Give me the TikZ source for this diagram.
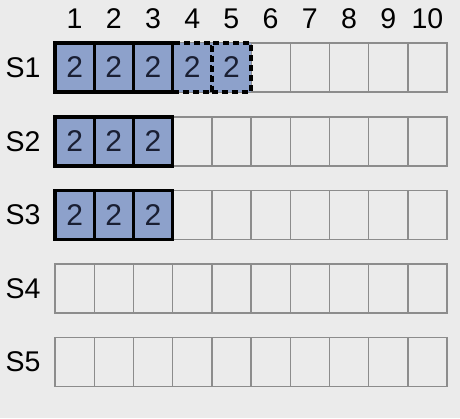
\documentclass[tikz,border=0pt]{standalone}
\usepackage{fontspec}
\setmainfont{Liberation Sans}
\definecolor{bg}{HTML}{EBEBEB}
\definecolor{cellfill}{HTML}{8DA1CB}
\definecolor{gridgray}{HTML}{8C8C8C}
\definecolor{digit}{HTML}{1A1F33}
\begin{document}
\begin{tikzpicture}[x=1pt,y=-1pt,
  emptycell/.style={draw=gridgray,line width=1.4pt,fill=none,minimum width=39.2pt,minimum height=49pt,inner sep=0pt,outer sep=0pt},
  fullcell/.style={draw=black,line width=3.4pt,fill=cellfill,minimum width=39.2pt,minimum height=49pt,inner sep=0pt,outer sep=0pt,text=digit,font=\fontsize{30}{31}\selectfont},
  dashcell/.style={fullcell,dash pattern=on 6pt off 4pt},
  head/.style={font=\fontsize{28.5}{30}\selectfont,inner sep=0pt}]
\fill[bg] (0,0) rectangle (460,418);
\useasboundingbox (0,0) rectangle (460,418);
% empty grid
\foreach \r/\y in {1/67.5,2/141.5,3/215,4/288.5,5/362} {
  \node[head] (s\r) at (23,\y) {S\r};
  \foreach \c in {1,...,10} {
    \node[emptycell] (e\r-\c) at ({55+(\c-0.5)*39.2},\y) {};
  }
}
\foreach \c in {1,...,10} {
  \node[head] (h\c) at ({55+(\c-0.5)*39.2},19) {\c};
}
% dashed cells in row 1
\foreach \c in {4,5} {
  \node[dashcell] (f1-\c) at (e1-\c) {2};
}
% filled cells
\foreach \r in {1,2,3} {
  \foreach \c in {1,2,3} {
    \node[fullcell] (f\r-\c) at (e\r-\c) {2};
  }
}
\end{tikzpicture}
\end{document}
